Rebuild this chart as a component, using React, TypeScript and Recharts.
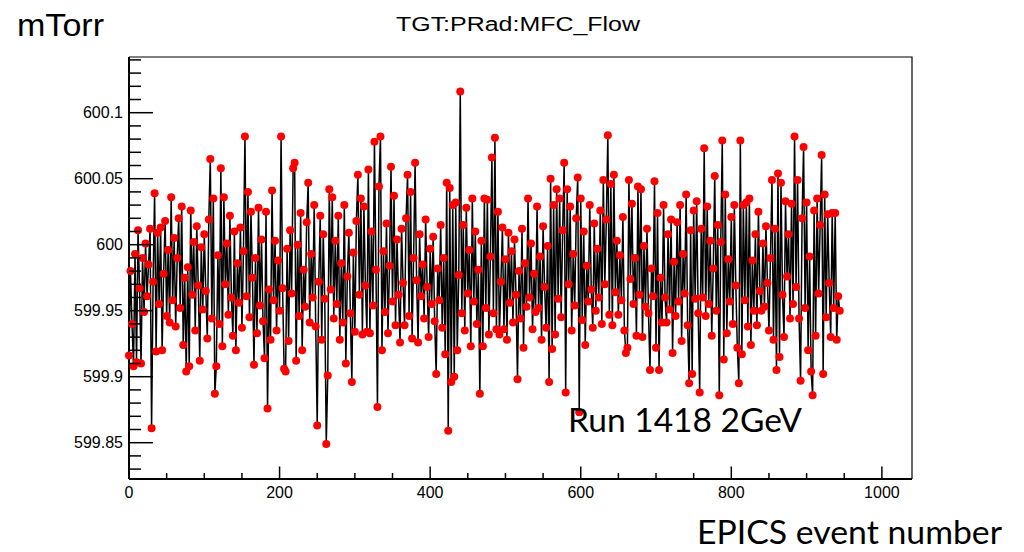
import React from 'react'
import { LineChart, Line, XAxis, YAxis } from 'recharts'

/* EPICS readback of TGT:PRad:MFC_Flow (mTorr), run 1418, one point every 2 EPICS events */

const flowEv0to188 = [
  599.916, 599.980, 599.940, 599.908, 599.993, 599.911, 600.011, 599.967, 599.910, 599.990,
  599.949, 600.001, 599.961, 599.985, 600.012, 599.861, 599.972, 600.039, 599.919, 600.009,
  599.955, 600.013, 599.920, 599.978, 600.018, 599.946, 599.996, 599.941, 600.036, 599.958,
  600.005, 599.938, 599.990, 600.020, 599.952, 600.029, 599.924, 599.975, 599.904, 599.983,
  599.908, 600.026, 599.962, 600.002, 599.935, 600.014, 599.969, 599.912, 599.998, 599.951,
  600.008, 599.965, 599.929, 600.019, 600.065, 599.944, 600.035, 599.887, 599.908, 599.992,
  599.940, 600.058, 599.923, 600.036, 599.970, 600.001, 599.947, 600.022, 599.960, 599.931,
  600.010, 599.920, 599.986, 599.956, 600.013, 599.937, 599.995, 600.082, 599.961, 600.040,
  599.945, 600.025, 599.975, 599.909, 599.990, 599.933, 600.028, 599.954, 600.004, 599.942,
  599.914, 600.025, 599.876, 599.966, 599.928,
]

const flowEv190to378 = [
  600.041, 599.958, 600.003, 599.935, 599.988, 599.950, 600.082, 599.967, 599.906, 599.904,
  599.997, 599.927, 600.011, 599.963, 600.058, 600.062, 599.912, 600.000, 599.946, 600.024,
  599.920, 599.981, 599.953, 600.017, 600.047, 599.941, 599.993, 599.960, 600.030, 599.938,
  599.863, 599.972, 600.022, 599.928, 600.008, 599.959, 599.849, 599.901, 600.042, 599.966,
  600.036, 599.944, 600.003, 599.955, 600.022, 599.928, 599.986, 599.941, 600.030, 599.910,
  599.976, 600.009, 599.948, 599.896, 599.994, 599.934, 600.018, 600.053, 599.962, 600.035,
  599.932, 600.029, 599.969, 599.934, 600.057, 599.933, 600.010, 599.954, 600.078, 599.981,
  599.877, 600.044, 600.082, 599.920, 599.995, 599.949, 600.016, 599.933, 599.984, 600.059,
  599.957, 600.037, 599.939, 600.004, 599.962, 599.926, 600.012, 599.971, 599.939, 600.020,
  600.053, 599.946, 600.040, 599.929, 599.990,
]

const flowEv380to568 = [
  600.062, 599.973, 599.926, 600.008, 599.961, 599.985, 599.944, 600.019, 599.968, 599.930,
  599.997, 599.955, 600.006, 599.942, 599.902, 599.982, 599.958, 600.015, 599.937, 599.990,
  599.917, 600.047, 599.859, 600.043, 599.896, 600.030, 599.900, 600.032, 599.920, 599.977,
  600.116, 599.948, 600.015, 599.935, 600.028, 599.963, 599.996, 599.923, 600.035, 599.957,
  600.010, 599.940, 599.981, 599.887, 600.003, 599.923, 600.035, 599.952, 600.034, 599.932,
  599.991, 600.066, 599.948, 600.081, 599.936, 600.025, 599.932, 599.972, 600.013, 599.936,
  599.989, 599.928, 600.009, 599.956, 599.995, 599.941, 600.004, 599.962, 599.898, 599.980,
  599.944, 600.012, 599.922, 599.986, 599.953, 600.035, 599.960, 600.001, 599.936, 599.978,
  599.949, 600.029, 599.952, 599.991, 599.928, 600.014, 599.968, 599.937, 599.999, 599.896,
  600.050, 599.921, 600.030, 599.932, 600.042,
]

const flowEv570to758 = [
  599.959, 600.035, 599.945, 600.011, 600.062, 599.888, 600.042, 599.970, 600.029, 599.935,
  599.993, 599.954, 600.020, 600.051, 599.873, 600.035, 599.943, 600.010, 599.924, 599.984,
  599.957, 600.030, 599.966, 599.937, 600.016, 599.950, 599.997, 599.960, 600.026, 599.940,
  600.049, 599.970, 600.019, 600.083, 599.947, 600.046, 599.939, 600.053, 599.964, 600.003,
  599.947, 599.992, 599.958, 600.021, 599.935, 599.918, 599.922, 600.049, 599.974, 600.031,
  599.955, 599.990, 599.931, 600.044, 599.962, 600.042, 599.930, 599.999, 599.953, 600.012,
  599.948, 599.905, 599.982, 599.961, 600.048, 599.922, 600.024, 599.905, 599.975, 599.941,
  600.030, 599.960, 599.941, 600.008, 599.951, 600.019, 599.918, 599.987, 599.946, 600.017,
  599.957, 600.030, 599.927, 599.993, 599.963, 600.038, 599.939, 599.895, 600.011, 599.902,
  600.026, 599.959, 600.033, 599.948, 599.888,
]

const flowEv760to944 = [
  600.012, 599.960, 600.073, 599.946, 600.029, 599.955, 600.003, 599.931, 599.982, 600.052,
  599.950, 600.015, 599.886, 600.002, 600.079, 599.913, 600.038, 599.933, 599.989, 599.957,
  600.021, 599.940, 600.030, 599.969, 599.922, 599.895, 600.079, 599.917, 600.030, 599.958,
  600.032, 599.938, 600.035, 599.924, 599.988, 599.950, 600.008, 599.939, 600.025, 599.965,
  599.950, 600.001, 599.953, 600.014, 599.971, 599.935, 599.990, 600.049, 599.928, 600.012,
  599.905, 600.054, 599.915, 600.047, 599.962, 599.930, 600.033, 599.976, 600.008, 599.944,
  600.031, 599.955, 600.082, 599.968, 600.049, 599.944, 599.897, 600.020, 600.074, 599.952,
  600.032, 599.920, 599.991, 599.904, 599.886, 600.026, 599.931, 600.035, 599.963, 600.015,
  600.068, 599.902, 600.038, 599.945, 600.023, 599.971, 599.930, 600.024, 599.952, 600.024,
  599.928, 599.961, 599.950,
]

const EVENT_STEP = 2

const xMajorTicks = [0, 200, 400, 600, 800, 1000]
const xMinorTicks = [50, 100, 150, 250, 300, 350, 450, 500, 550, 650, 700, 750, 850, 900, 950]
const yMajorTicks = [599.85, 599.9, 599.95, 600, 600.05, 600.1]
const yMinorTicks = [
  599.83, 599.84, 599.86, 599.87, 599.88, 599.89, 599.91, 599.92, 599.93, 599.94,
  599.96, 599.97, 599.98, 599.99, 600.01, 600.02, 600.03, 600.04, 600.06, 600.07,
  600.08, 600.09, 600.11, 600.12, 600.13, 600.14,
]

const X_DOMAIN: [number, number] = [0, 1040]
const Y_DOMAIN: [number, number] = [599.8225, 600.1422]

// frame in page pixels
const W = 1024
const H = 552
const LEFT = 129
const TOP = 57
const RIGHT = 912
const BOTTOM = 479
const AXIS_PAD = 1

const TICK_FONT = '"Liberation Sans", Arial, Helvetica, sans-serif'
const NOTE_FONT = 'Lato, "Open Sans", sans-serif'

const data = [...flowEv0to188, ...flowEv190to378, ...flowEv380to568, ...flowEv570to758, ...flowEv760to944].map(
  (flow, i) => ({ event: i * EVENT_STEP, flow }),
)

const xTicks = [...xMajorTicks, ...xMinorTicks].sort((a, b) => a - b)
const yTicks = [...yMajorTicks, ...yMinorTicks].sort((a, b) => a - b)

const isMajor = (v: number, list: number[]) => list.some((m) => Math.abs(m - v) < 1e-6)

function XTick(props: any) {
  const { x, payload } = props
  const v = payload.value as number
  const major = isMajor(v, xMajorTicks)
  return (
    <g>
      <line x1={x} x2={x} y1={BOTTOM} y2={BOTTOM - (major ? 12.5 : 6)} stroke="#000" strokeWidth={1.5} />
      {major && (
        <text x={x} y={BOTTOM + 19} textAnchor="middle" fontSize={16} fontFamily={TICK_FONT} fill="#000">
          {v}
        </text>
      )}
    </g>
  )
}

function YTick(props: any) {
  const { y, payload } = props
  const v = payload.value as number
  const major = isMajor(v, yMajorTicks)
  return (
    <g>
      <line x1={LEFT} x2={LEFT + (major ? 24 : 12)} y1={y} y2={y} stroke="#000" strokeWidth={1.5} />
      {major && (
        <text x={LEFT - 6} y={y} dy="0.36em" textAnchor="end" fontSize={16} fontFamily={TICK_FONT} fill="#000">
          {Number(v.toFixed(2)).toString()}
        </text>
      )}
    </g>
  )
}

export default function App() {
  return (
    <div style={{ position: 'absolute', left: 0, top: 0, width: W, height: H, background: '#fff' }}>
      <LineChart
        width={W}
        height={H}
        data={data}
        margin={{ top: TOP, right: W - RIGHT, bottom: H - BOTTOM - AXIS_PAD, left: LEFT - AXIS_PAD }}
      >
        <XAxis
          type="number"
          dataKey="event"
          domain={X_DOMAIN}
          ticks={xTicks}
          interval={0}
          height={AXIS_PAD}
          tickLine={false}
          axisLine={{ stroke: '#000', strokeWidth: 2 }}
          tick={(p: any) => <XTick {...p} />}
        />
        <YAxis
          type="number"
          domain={Y_DOMAIN}
          ticks={yTicks}
          interval={0}
          width={AXIS_PAD}
          tickLine={false}
          axisLine={{ stroke: '#000', strokeWidth: 2 }}
          tick={(p: any) => <YTick {...p} />}
        />
        <Line
          type="linear"
          dataKey="flow"
          stroke="#000"
          strokeWidth={1.5}
          dot={{ r: 4, fill: '#ff0000', stroke: 'none' }}
          activeDot={false}
          isAnimationActive={false}
        />
      </LineChart>

      <svg
        width={W}
        height={H}
        style={{ position: 'absolute', left: 0, top: 0, pointerEvents: 'none' }}
      >
        {/* top and right sides of the ROOT frame */}
        <polyline points={`${LEFT},${TOP} ${RIGHT},${TOP} ${RIGHT},${BOTTOM}`} fill="none" stroke="#000" strokeWidth={1.2} />
        <text x={17} y={36} fontSize={31} fontFamily={TICK_FONT} textLength={87} lengthAdjust="spacingAndGlyphs">
          mTorr
        </text>
        <text x={396} y={31} fontSize={20} fontFamily={TICK_FONT} textLength={244} lengthAdjust="spacingAndGlyphs">
          TGT:PRad:MFC_Flow
        </text>
        <text x={568} y={432} fontSize={33} fontFamily={NOTE_FONT} textLength={234} lengthAdjust="spacingAndGlyphs">
          Run 1418 2GeV
        </text>
        <text x={697} y={544} fontSize={32} fontFamily={NOTE_FONT} textLength={305} lengthAdjust="spacingAndGlyphs">
          EPICS event number
        </text>
      </svg>
    </div>
  )
}
